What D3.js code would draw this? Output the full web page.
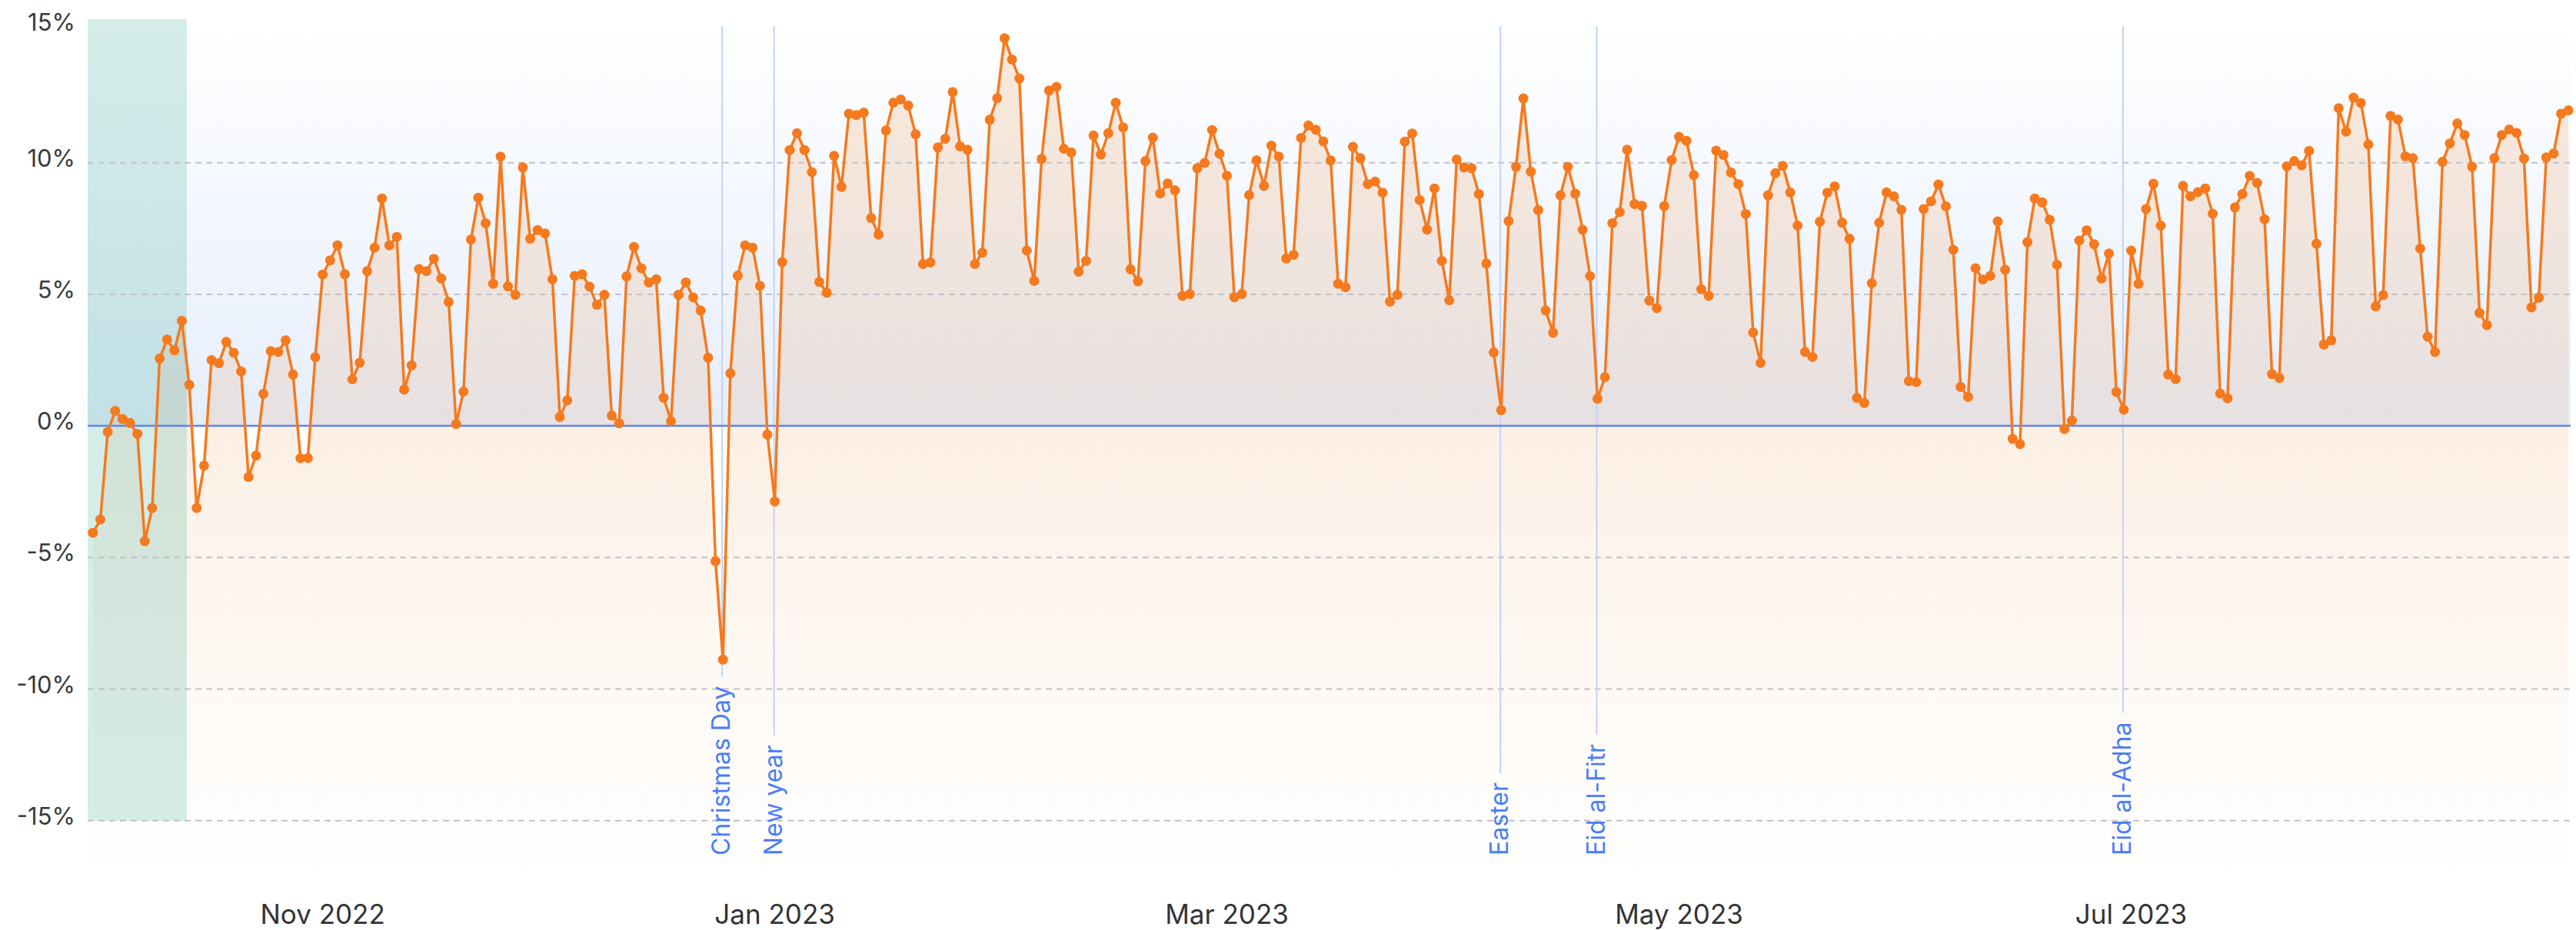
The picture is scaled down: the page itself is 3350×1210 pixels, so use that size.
<!DOCTYPE html>
<html>
<head>
<meta charset="utf-8">
<script src="https://cdn.jsdelivr.net/npm/d3@7/dist/d3.min.js"></script>
<style>
body { margin: 0; background: #fff; }
svg { display: block; font-family: Inter, Roboto, sans-serif; }
</style>
</head>
<body>
<svg id="svg1" width="3350" height="1210"></svg>
<script>
// daily change vs previous year, one value per day starting at startDate
var startDate = "2022-10-01";
var values = [
  -4.06, -3.56, -0.23, 0.57, 0.26, 0.11, -0.30, -4.38, -3.12, 2.56,
  3.28, 2.87, 3.99, 1.56, -3.12, -1.51, 2.50, 2.38, 3.19, 2.78,
  2.07, -1.94, -1.13, 1.22, 2.84, 2.81, 3.25, 1.95, -1.23, -1.22,
  2.61, 5.75, 6.29, 6.86, 5.76, 1.77, 2.40, 5.88, 6.77, 8.64,
  6.86, 7.18, 1.38, 2.30, 5.96, 5.88, 6.35, 5.60, 4.71, 0.07,
  1.30, 7.08, 8.67, 7.70, 5.40, 10.23, 5.30, 4.98, 9.82, 7.11,
  7.44, 7.31, 5.57, 0.34, 0.97, 5.70, 5.76, 5.29, 4.60, 4.98,
  0.39, 0.10, 5.68, 6.80, 5.99, 5.45, 5.57, 1.07, 0.18, 4.98,
  5.45, 4.88, 4.38, 2.59, -5.14, -8.88, 2.00, 5.71, 6.86, 6.77,
  5.32, -0.33, -2.87, 6.22, 10.48, 11.12, 10.48, 9.64, 5.47, 5.06,
  10.26, 9.08, 11.86, 11.81, 11.90, 7.90, 7.27, 11.22, 12.28, 12.40,
  12.17, 11.08, 6.15, 6.21, 10.58, 10.91, 12.68, 10.62, 10.49, 6.15,
  6.58, 11.63, 12.45, 14.73, 13.92, 13.20, 6.66, 5.51, 10.14, 12.74,
  12.88, 10.53, 10.39, 5.86, 6.27, 11.03, 10.31, 11.12, 12.28, 11.34,
  5.95, 5.49, 10.06, 10.95, 8.83, 9.21, 8.95, 4.94, 5.01, 9.79,
  9.99, 11.24, 10.34, 9.50, 4.89, 5.01, 8.77, 10.09, 9.12, 10.65,
  10.23, 6.36, 6.50, 10.94, 11.41, 11.25, 10.81, 10.09, 5.40, 5.27,
  10.60, 10.17, 9.19, 9.28, 8.86, 4.72, 4.98, 10.80, 11.11, 8.58,
  7.46, 9.02, 6.27, 4.77, 10.12, 9.82, 9.79, 8.81, 6.17, 2.79,
  0.60, 7.78, 9.84, 12.44, 9.66, 8.20, 4.38, 3.54, 8.76, 9.84,
  8.82, 7.45, 5.69, 1.03, 1.85, 7.70, 8.12, 10.49, 8.43, 8.36,
  4.76, 4.47, 8.35, 10.10, 10.98, 10.83, 9.53, 5.19, 4.94, 10.46,
  10.29, 9.63, 9.19, 8.05, 3.55, 2.39, 8.76, 9.60, 9.88, 8.87,
  7.61, 2.81, 2.62, 7.76, 8.86, 9.10, 7.72, 7.11, 1.06, 0.87,
  5.42, 7.72, 8.87, 8.72, 8.21, 1.70, 1.66, 8.24, 8.53, 9.17,
  8.34, 6.69, 1.48, 1.10, 5.99, 5.56, 5.70, 7.77, 5.93, -0.49,
  -0.69, 6.98, 8.64, 8.49, 7.83, 6.12, -0.12, 0.20, 7.04, 7.43,
  6.90, 5.60, 6.55, 1.29, 0.62, 6.66, 5.40, 8.24, 9.20, 7.61,
  1.95, 1.78, 9.12, 8.72, 8.88, 9.02, 8.06, 1.23, 1.05, 8.30,
  8.81, 9.50, 9.23, 7.85, 1.97, 1.82, 9.86, 10.06, 9.90, 10.45,
  6.92, 3.09, 3.25, 12.07, 11.18, 12.47, 12.27, 10.69, 4.54, 4.97,
  11.78, 11.64, 10.24, 10.17, 6.74, 3.39, 2.81, 10.03, 10.73, 11.49,
  11.05, 9.85, 4.29, 3.83, 10.17, 11.05, 11.26, 11.13, 10.16, 4.50,
  4.87, 10.20, 10.35, 11.86, 11.99
];

var holidayNames = ["Christmas Day", "New year", "Easter", "Eid al-Fitr", "Eid al-Adha"];
var holidayDates = ["2022-12-25", "2023-01-01", "2023-04-09", "2023-04-22", "2023-07-02"];

var xTickDates = ["2022-11-01", "2023-01-01", "2023-03-03", "2023-05-03", "2023-07-03"];
var yTickValues = [-15, -10, -5, 0, 5, 10, 15];

var highlightRange = ["2022-09-30T07:00", "2022-10-13T16:00"];
var xDomain = ["2022-09-30T07:00", "2023-08-31T07:00"];
var yDomain = [-17.4, 15.45];

var parseDay = d3.utcParse("%Y-%m-%d");
var parseTime = d3.utcParse("%Y-%m-%dT%H:%M");

var plotLeft = 114, plotRight = 3343, plotTop = 25, plotBottom = 1150;

var data = values.map(function(v, i) {
  return { date: d3.utcDay.offset(parseDay(startDate), i), value: v };
});

var scaleX = d3.scaleUtc()
  .domain(xDomain.map(parseTime))
  .range([plotLeft, plotRight]);
var scaleY = d3.scaleLinear()
  .domain(yDomain)
  .range([plotBottom, plotTop]);

var svg = d3.select('#svg1');
var defs = svg.append('defs');

// light blue wash above the zero line
var blueGrad = defs.append('linearGradient')
  .attr('id', 'blueGrad')
  .attr('gradientUnits', 'userSpaceOnUse')
  .attr('x1', 0).attr('x2', 0)
  .attr('y1', plotTop).attr('y2', scaleY(0));
blueGrad.append('stop').attr('offset', 0).attr('stop-color', '#ffffff');
blueGrad.append('stop').attr('offset', 1).attr('stop-color', '#e6eefc');

// orange fill under the line, fading out towards the bottom
var areaGrad = defs.append('linearGradient')
  .attr('id', 'areaGrad')
  .attr('gradientUnits', 'userSpaceOnUse')
  .attr('x1', 0).attr('x2', 0)
  .attr('y1', plotTop).attr('y2', plotBottom);
areaGrad.append('stop').attr('offset', 0).attr('stop-color', 'rgb(232,125,32)').attr('stop-opacity', 0.17);
areaGrad.append('stop').attr('offset', 0.47).attr('stop-color', 'rgb(232,125,32)').attr('stop-opacity', 0.12);
areaGrad.append('stop').attr('offset', 0.8).attr('stop-color', 'rgb(232,125,32)').attr('stop-opacity', 0.04);
areaGrad.append('stop').attr('offset', 1).attr('stop-color', 'rgb(232,125,32)').attr('stop-opacity', 0);

svg.append('rect')
  .attr('x', plotLeft)
  .attr('y', plotTop)
  .attr('width', plotRight - plotLeft)
  .attr('height', scaleY(0) - plotTop)
  .attr('fill', 'url(#blueGrad)');

var area = d3.area()
  .x(function(d) { return scaleX(d.date); })
  .y0(plotBottom)
  .y1(function(d) { return scaleY(d.value); });

svg.append('path')
  .datum(data)
  .attr('d', area)
  .attr('fill', 'url(#areaGrad)');

// highlighted period on the left
svg.append('rect')
  .attr('x', scaleX(parseTime(highlightRange[0])))
  .attr('y', plotTop)
  .attr('width', scaleX(parseTime(highlightRange[1])) - scaleX(parseTime(highlightRange[0])))
  .attr('height', scaleY(-15) - plotTop)
  .attr('fill', 'rgb(100,188,172)')
  .attr('fill-opacity', 0.27);

// dashed grid
svg.append('g')
  .selectAll('line')
  .data(yTickValues.filter(function(v) { return v !== 0 && v !== 15; }))
  .enter()
  .append('line')
  .attr('x1', plotLeft)
  .attr('x2', plotRight)
  .attr('y1', function(d) { return scaleY(d); })
  .attr('y2', function(d) { return scaleY(d); })
  .attr('stroke', '#c2c2c6')
  .attr('stroke-width', 2)
  .attr('stroke-dasharray', '8,6');

// holidays
var holidays = svg.append('g')
  .selectAll('g')
  .data(holidayNames.map(function(n, i) { return { name: n, date: parseDay(holidayDates[i]) }; }))
  .enter()
  .append('g');

var labelBottom = 1113;
holidays.append('text')
  .attr('transform', function(d) { return 'translate(' + (scaleX(d.date) - 1) + ',' + labelBottom + ') rotate(-90)'; })
  .attr('text-anchor', 'start')
  .attr('dy', '0.32em')
  .attr('fill', '#4a7ef3')
  .attr('font-size', 32)
  .text(function(d) { return d.name; });

holidays.append('line')
  .attr('x1', function(d) { return scaleX(d.date) - 1; })
  .attr('x2', function(d) { return scaleX(d.date) - 1; })
  .attr('y1', 34)
  .attr('y2', function(d) {
    var len = this.parentNode.querySelector('text').getComputedTextLength();
    return labelBottom - len - 12;
  })
  .attr('stroke', '#c3d3f7')
  .attr('stroke-width', 2);

// zero line
svg.append('line')
  .attr('x1', plotLeft)
  .attr('x2', plotRight)
  .attr('y1', scaleY(0))
  .attr('y2', scaleY(0))
  .attr('stroke', '#5a84ee')
  .attr('stroke-width', 2.5);

var line = d3.line()
  .x(function(d) { return scaleX(d.date); })
  .y(function(d) { return scaleY(d.value); });

svg.append('path')
  .datum(data)
  .attr('d', line)
  .attr('fill', 'none')
  .attr('stroke', '#f57a1e')
  .attr('stroke-width', 3.5)
  .attr('stroke-linejoin', 'round');

svg.append('g')
  .selectAll('circle')
  .data(data)
  .enter()
  .append('circle')
  .attr('cx', function(d) { return scaleX(d.date); })
  .attr('cy', function(d) { return scaleY(d.value); })
  .attr('r', 6.5)
  .attr('fill', '#f57a1e');

// y axis labels (top one sits at the upper edge of the plot)
svg.append('g')
  .selectAll('text')
  .data(yTickValues)
  .enter()
  .append('text')
  .attr('x', 98)
  .attr('y', function(d) { return Math.max(scaleY(d) + 5, plotTop + 15); })
  .attr('dy', function(d, i) { return i === yTickValues.length - 1 ? -5 : 0; })
  .attr('text-anchor', 'end')
  .attr('font-size', 31)
  .attr('fill', '#3a3a3a')
  .text(function(d) { return d + '%'; });

// x axis labels
var fmt = d3.utcFormat('%b %Y');
svg.append('g')
  .selectAll('text')
  .data(xTickDates.map(parseDay))
  .enter()
  .append('text')
  .attr('x', function(d) { return scaleX(d); })
  .attr('y', 1202)
  .attr('text-anchor', 'middle')
  .attr('font-size', 35)
  .attr('fill', '#333333')
  .text(function(d) { return fmt(d); });
</script>
</body>
</html>
